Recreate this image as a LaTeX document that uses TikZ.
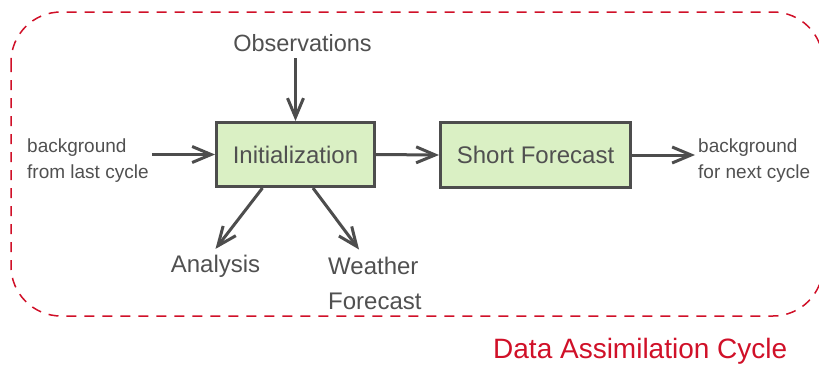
\documentclass[tikz,border=0pt]{standalone}
\usepackage{fontspec}
\setmainfont{Liberation Sans}
\usetikzlibrary{arrows.meta}
\definecolor{boxgreen}{RGB}{218,240,196}
\definecolor{linegray}{RGB}{77,77,77}
\definecolor{textgray}{RGB}{80,80,80}
\definecolor{cyclered}{RGB}{208,16,40}
\newcommand{\thickness}{3pt}
\newcommand{\bigtext}{\fontsize{24}{35}\selectfont}
\newcommand{\smalltext}{\fontsize{19}{26}\selectfont}
\tikzset{
  stage/.style={draw=linegray, fill=boxgreen, line width=\thickness, text=textgray, font=\bigtext},
  note/.style={text=textgray, align=left},
  flow/.style={draw=linegray, line width=\thickness, -{Straight Barb[length=19pt,width=16pt]}},
  cycleframe/.style={draw=cyclered, line width=1.5pt, dash pattern=on 10pt off 8pt, rounded corners=50pt}
}

\begin{document}
\begin{tikzpicture}[x=1pt,y=-1pt]
\useasboundingbox (0,0) rectangle (819,365);
\draw[cycleframe] (11,12) rectangle (823,316);
\node[stage] (init) at (295.5,154.5) [minimum width=158pt, minimum height=64pt] {Initialization};
\node[stage] (short) at (535.5,155) [minimum width=190pt, minimum height=65pt] {Short Forecast};
\node[note] (obs) at (302.5,51) [anchor=base, inner sep=7pt, font=\fontsize{23.5}{26}\selectfont] {Observations};
\node[note] (bglast) at (24,135.4) [anchor=north west, inner sep=3pt, font=\smalltext] {background\\from last cycle};
\node[note] (bgnext) at (695,135.4) [anchor=north west, inner sep=3pt, font=\smalltext] {background\\for next cycle};
\node[note] (analysis) at (215.5,272) [anchor=base, inner sep=5.5pt, font=\bigtext] {Analysis};
\node[note] (weather) at (321,249.5) [anchor=north west, inner sep=7pt, font=\bigtext] {Weather\\Forecast};
\node[text=cyclered, font=\fontsize{28}{34}\selectfont] (title) at (493,358.5) [anchor=base west, inner sep=0pt] {Data Assimilation Cycle};
%arrows
\draw[flow] (obs.south -| init.north) -- (init.north);
\draw[flow] (bglast.east |- init.west) -- (init.west);
\draw[flow] (init.east) -- (short.west);
\draw[flow] (short.east) -- (short.east -| bgnext.west);
\draw[flow] ([xshift=-33pt]init.south) -- (analysis.north);
\draw[flow] ([xshift=17.5pt]init.south) -- ([xshift=38pt]weather.north west);
\end{tikzpicture}
\end{document}
